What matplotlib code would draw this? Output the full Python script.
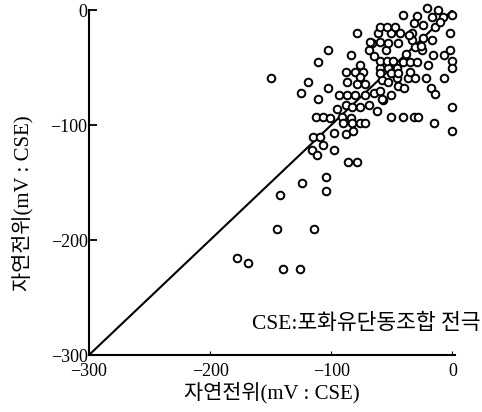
import matplotlib
matplotlib.use("Agg")
import matplotlib.pyplot as plt

# natural potential pairs (mV : CSE)
x_vals = [-150, -142, -145, -178, -169, -140, -126,
          -124, -104, -104, -114,
          -86, -79, -98, -116, -112, -107,
          -115, -109, -98, -88, -82,
          0, 0, -15,
          -113, -107, -101, -91, -84,
          -90, -83, -76, -72,
          -51, -41, -32, -28,
          -88, -83, -76, -69, -57,
          -125, -111, -119, -103,
          -94, -87, -80, -72, -65, -60,
          -58, -51,
          -88, -80, -74, -76,
          -87, -79, -72,
          -58, -53, -46, -37, -31, -22, -7,
          -60, -53, -46,
          -60, -51, -45, -35,
          -76, -84, -69, -66, -79, -103, -111,
          -60, -54, -49, -41, -35, -29,
          -18, -14,
          -16, -7, -2, 0, 0,
          -55, -68, -60, -53, -45,
          -33, -24, -17, -31,
          -61, -51, -43, -33, -2,
          -60, -54, -47,
          -32, -24, -14,
          -41, -29, -17, -8, 0, -21, -12,
          -65, -38, -25, -20, -45, -40, -95, -62, -36, -26, -10]
y_vals = [-59, -161, -190, -216, -220, -225, -225,
          -150, -145, -157, -190,
          -132, -132, -122, -122, -126, -117,
          -110, -110, -107, -108, -105,
          -105, -84, -98,
          -93, -93, -94, -93, -94,
          -98, -98, -98, -98,
          -93, -93, -93, -93,
          -83, -84, -84, -83, -78,
          -72, -77, -63, -68,
          -74, -74, -74, -74, -72, -70,
          -77, -74,
          -54, -54, -54, -58,
          -63, -64, -64,
          -61, -63, -59, -59, -59, -59, -59,
          -50, -50, -50,
          -55, -55, -55, -54,
          -48, -39, -35, -29, -20, -35, -45,
          -44, -44, -44, -45, -45, -45,
          -68, -73,
          -39, -39, -35, -44, -50,
          -35, -28, -28, -29, -29,
          -26, -24, -26, -32,
          -20, -20, -20, -20, -20,
          -15, -15, -15,
          -11, -13, -15,
          -4, -5, -6, -6, -4, 2, 0,
          -40, -38, -35, -48, -66, -68, -86, -88, -22, -31, -10]
line_x = [-300, 0]
line_y = [-300, 0]
x_ticks = [-300, -200, -100, 0]
y_ticks = [0, -100, -200, -300]

fonts = ['Liberation Serif', 'Noto Sans CJK KR']

fig = plt.figure(figsize=(4.82, 4.12), dpi=100)
ax = fig.add_axes([0.1846, 0.1383, 0.759, 0.8374])

ax.plot(line_x, line_y, color='black', lw=1.5)
ax.scatter(x_vals, y_vals, s=30, facecolors='white', edgecolors='black',
           linewidths=1.4, zorder=3, clip_on=False)

ax.set_xlim(-300, 2)
ax.set_ylim(-300, 0)
ax.set_xticks(x_ticks)
ax.set_yticks(y_ticks)
ax.spines['top'].set_visible(False)
ax.spines['right'].set_visible(False)
ax.spines['left'].set_linewidth(1.5)
ax.spines['bottom'].set_linewidth(1.5)
ax.tick_params(axis='y', direction='in', length=6, width=1.3, labelsize=13, pad=1)
ax.tick_params(axis='x', direction='in', length=3, width=0.8, labelsize=13, pad=6)
for lab in ax.get_xticklabels() + ax.get_yticklabels():
    lab.set_family(fonts)

ax.set_xlabel('자연전위(mV : CSE)', family=fonts, fontsize=15, labelpad=1)
ax.set_ylabel('자연전위(mV : CSE)', family=fonts, fontsize=15)
ax.yaxis.set_label_coords(-0.153, 0.44)

fig.text(0.996, 0.215, 'CSE:포화유단동조합 전극', family=fonts, fontsize=15.5,
         ha='right', va='center')

fig.savefig('out.png', dpi=100, facecolor='white')
